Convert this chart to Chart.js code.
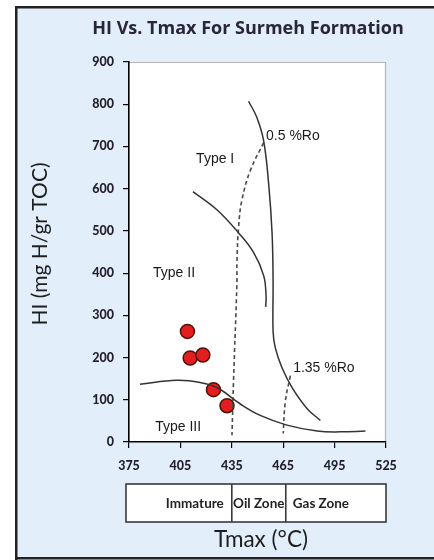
<!DOCTYPE html>
<html>
<head>
<meta charset="utf-8">
<script src="https://cdn.jsdelivr.net/npm/chart.js@4.4.0/dist/chart.umd.min.js"></script>
<style>
  html, body { margin: 0; padding: 0; background: #fff; }
  #wrap { width: 434px; height: 560px; position: relative; }
</style>
</head>
<body>
<div id="wrap"><canvas id="grafico" width="434" height="560"></canvas></div>
<script>
// DADOS DO GRAFICO
const xTicks = [375, 405, 435, 465, 495, 525];
const yTicks = [0, 100, 200, 300, 400, 500, 600, 700, 800, 900];

// amostras (Tmax, HI)
const sampleTmax = [409.1, 410.7, 418.1, 424.3, 432.2];
const sampleHI = [262, 199, 206, 124, 86];

// curvas de tipo de querogênio
const typeITmax = [444.8, 449.7, 453.6, 456.5, 458.5, 459.1, 459.1, 460.4, 464.3, 470.2, 479, 486.7];
const typeIHI = [807, 768, 713, 612, 495, 379, 262, 223, 176, 129, 79, 51];

const typeIITmax = [412.3, 426.3, 439, 447.7, 453.6, 455, 454.8];
const typeIIHI = [593, 550, 495, 449, 394, 347, 320];

const typeIIITmax = [381.4, 402.9, 416.5, 426.3, 440, 451.6, 467.2, 484.8, 498.4, 513];
const typeIIIHI = [137, 146, 141, 129, 90, 63, 40, 26, 24, 26];

// linhas de reflectância
const ro05Tmax = [453.6, 445.8, 440.9, 439, 438, 438, 436, 435.1];
const ro05HI = [709, 643, 573, 511, 425, 379, 145, 16];

const ro135Tmax = [469.2, 466.3, 465];
const ro135HI = [157, 98, 20];

// rótulos dentro do gráfico
const labelText = ["Type I", "Type II", "Type III", "0.5 %Ro", "1.35 %Ro"];
const labelTmax = [425.3, 401.3, 403.7, 455, 470.8];
const labelHI = [670, 400, 35, 725, 175];
const labelAlign = ["center", "center", "center", "left", "left"];

// zonas de maturação
const zoneNames = ["Immature", "Oil Zone", "Gas Zone"];
const zoneStart = [375, 435, 466.5];
const zoneEnd = [435, 466.5, 525];

function pairs(xs, ys) {
  return xs.map((x, i) => ({ x: x, y: ys[i] }));
}

function curve(label, xs, ys, dashed) {
  return {
    label: label,
    data: pairs(xs, ys),
    showLine: true,
    pointRadius: 0,
    borderColor: dashed ? "#4a4a4a" : "#333",
    borderWidth: dashed ? 1.6 : 1.5,
    borderDash: dashed ? [4, 3] : [],
    tension: 0.4,
    fill: false,
  };
}

// FUNDO E MOLDURA
const fundo = {
  id: "fundo",
  beforeDraw(chart) {
    const ctx = chart.ctx;
    const a = chart.chartArea;
    ctx.save();
    ctx.fillStyle = "#fff";
    ctx.fillRect(0, 0, 434, 560);
    ctx.fillStyle = "#e2eef9";
    ctx.fillRect(15, 6, 419, 554);
    ctx.fillStyle = "#222";
    ctx.fillRect(15, 6, 2.5, 554);
    ctx.fillRect(15, 6, 419, 2.5);
    ctx.fillRect(15, 557, 419, 2.5);
    // área do gráfico
    ctx.fillStyle = "#fff";
    ctx.fillRect(a.left, a.top, a.right - a.left, a.bottom - a.top);
    ctx.strokeStyle = "#b5b5b5";
    ctx.lineWidth = 1.2;
    ctx.beginPath();
    ctx.moveTo(a.left, a.top + 0.5);
    ctx.lineTo(a.right - 0.5, a.top + 0.5);
    ctx.lineTo(a.right - 0.5, a.bottom);
    ctx.stroke();
    ctx.restore();
  },
  afterDraw(chart) {
    const ctx = chart.ctx;
    const xs = chart.scales.x;
    const ys = chart.scales.y;
    ctx.save();
    // título
    ctx.fillStyle = "#2a263a";
    ctx.font = "bold 18px 'Open Sans'";
    ctx.textAlign = "center";
    ctx.textBaseline = "middle";
    ctx.fillText("HI Vs. Tmax For Surmeh Formation", 248, 29);

    // titulo eixo y
    ctx.save();
    ctx.translate(40, 244);
    ctx.rotate(-Math.PI / 2);
    ctx.font = "21px Lato";
    ctx.fillStyle = "#1e1e1e";
    ctx.fillText("HI (mg H/gr TOC)", 0, 0);
    ctx.restore();

    // titulo eixo x
    ctx.font = "22.5px Lato";
    ctx.fillStyle = "#1e1e1e";
    ctx.fillText("Tmax (°C)", 261, 540);

    // rótulos internos
    ctx.font = "14px 'Liberation Sans Narrow', 'Liberation Sans'";
    ctx.fillStyle = "#1a1a1a";
    for (let i = 0; i < labelText.length; i++) {
      ctx.textAlign = labelAlign[i];
      ctx.fillText(labelText[i], xs.getPixelForValue(labelTmax[i]), ys.getPixelForValue(labelHI[i]));
    }

    // caixa das zonas
    const top = 484, bottom = 522;
    ctx.fillStyle = "#fff";
    const x0 = xs.getPixelForValue(zoneStart[0]) - 3;
    const x1 = xs.getPixelForValue(zoneEnd[zoneEnd.length - 1]);
    ctx.fillRect(x0, top, x1 - x0, bottom - top);
    ctx.strokeStyle = "#3a3a3a";
    ctx.lineWidth = 1.6;
    ctx.strokeRect(x0, top, x1 - x0, bottom - top);
    ctx.beginPath();
    for (let i = 1; i < zoneStart.length; i++) {
      const px = xs.getPixelForValue(zoneStart[i]);
      ctx.moveTo(px, top);
      ctx.lineTo(px, bottom);
    }
    ctx.stroke();
    ctx.font = "bold 13.5px Lato";
    ctx.fillStyle = "#222";
    const mid = (top + bottom) / 2 + 1;
    ctx.textAlign = "right";
    ctx.fillText(zoneNames[0], xs.getPixelForValue(zoneEnd[0]) - 8, mid);
    ctx.textAlign = "center";
    ctx.fillText(zoneNames[1], (xs.getPixelForValue(zoneStart[1]) + xs.getPixelForValue(zoneEnd[1])) / 2, mid);
    ctx.textAlign = "left";
    ctx.fillText(zoneNames[2], xs.getPixelForValue(zoneStart[2]) + 7, mid);
    ctx.restore();
  },
};

let config = {
  type: "scatter",
  data: {
    datasets: [
      curve("Type I", typeITmax, typeIHI, false),
      curve("Type II", typeIITmax, typeIIHI, false),
      curve("Type III", typeIIITmax, typeIIIHI, false),
      curve("0.5 %Ro", ro05Tmax, ro05HI, true),
      curve("1.35 %Ro", ro135Tmax, ro135HI, true),
      {
        label: "Surmeh",
        data: pairs(sampleTmax, sampleHI),
        pointRadius: 7,
        pointBackgroundColor: "#e41e1e",
        pointBorderColor: "#4a140a",
        pointBorderWidth: 1.5,
      },
    ],
  },
  options: {
    responsive: false,
    animation: false,
    layout: { padding: { left: 0, top: 62, right: 48, bottom: 78 } },
    plugins: { legend: { display: false }, tooltip: { enabled: false } },
    scales: {
      x: {
        type: "linear",
        min: 375,
        max: 525,
        afterBuildTicks: (s) => { s.ticks = xTicks.map((v) => ({ value: v })); },
        afterFit: (s) => { s.height = 40; },
        grid: { drawOnChartArea: false, drawTicks: true, tickLength: 6, color: "#000", lineWidth: 1.2 },
        border: { color: "#000", width: 1.6 },
        ticks: { color: "#231f2a", font: { family: "Lato", weight: "900", size: 12.5 }, padding: 10, maxRotation: 0 },
      },
      y: {
        type: "linear",
        min: 0,
        max: 900,
        afterBuildTicks: (s) => { s.ticks = yTicks.map((v) => ({ value: v })); },
        afterFit: (s) => { s.width = 129; },
        grid: { drawOnChartArea: false, drawTicks: true, tickLength: 6, color: "#000", lineWidth: 1.2 },
        border: { color: "#000", width: 1.6 },
        ticks: { color: "#231f2a", font: { family: "Lato", weight: "900", size: 12.5 }, padding: 9 },
      },
    },
  },
  plugins: [fundo],
};

const grafico = new Chart(document.getElementById("grafico"), config);
</script>
</body>
</html>
